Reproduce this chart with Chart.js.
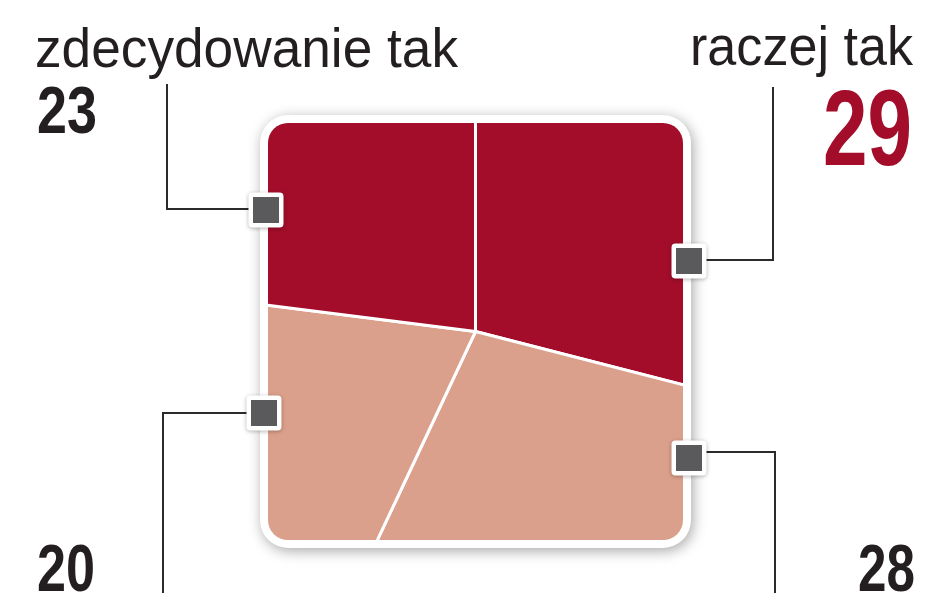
<!DOCTYPE html>
<html lang="pl">
<head>
<meta charset="utf-8">
<title>zdecydowanie tak / raczej tak</title>
<script src="https://cdn.jsdelivr.net/npm/chart.js@4.4.1/dist/chart.umd.min.js"></script>
<style>
  html, body { margin: 0; padding: 0; background: #fff; overflow: hidden; }
  #wrap { width: 948px; height: 593px; }
</style>
</head>
<body>
<div id="wrap"><canvas id="pieChart" width="948" height="593"></canvas></div>
<script>
// slices clockwise from 12 o'clock
const categories = ["raczej tak", "", "", "zdecydowanie tak"];
const values = [29, 28, 20, 23];

const DARK_RED = "#a30d2a";
const SALMON = "#dba08b";
const INK = "#231f20";

// callout boxes: name / number text fitted between left..right, sitting on baseline
const callouts = [
  { slice: 3, name: { left: 35, right: 458, base: 67 }, num: { left: 37, right: 97, base: 133, size: 67, color: INK },
    line: [[250, 209], [167, 209], [167, 84]], marker: [266, 210] },
  { slice: 0, name: { left: 690, right: 913, base: 65 }, num: { left: 823, right: 912, base: 165, size: 107, color: DARK_RED },
    line: [[706, 260], [773, 260], [773, 87]], marker: [689, 261] },
  { slice: 2, num: { left: 37, right: 95, base: 591, size: 67, color: INK },
    line: [[248, 413], [163, 413], [163, 600]], marker: [264, 413] },
  { slice: 1, num: { left: 858, right: 915, base: 591, size: 67, color: INK },
    line: [[706, 452], [775, 452], [775, 600]], marker: [689, 458] }
];

function fitText(ctx, text, box, font, color) {
  ctx.save();
  ctx.font = font;
  ctx.fillStyle = color;
  ctx.textBaseline = "alphabetic";
  ctx.textAlign = "left";
  const w = ctx.measureText(text).width;
  ctx.translate(box.left, box.base);
  ctx.scale((box.right - box.left) / w, 1);
  ctx.fillText(text, 0, 0);
  ctx.restore();
}

const framePlugin = {
  id: "frame",
  beforeDatasetsDraw(chart) {
    const { ctx, chartArea: a } = chart;
    ctx.save();
    ctx.shadowColor = "rgba(0,0,0,0.35)";
    ctx.shadowBlur = 14;
    ctx.shadowOffsetX = 2;
    ctx.shadowOffsetY = 3;
    ctx.fillStyle = "#fff";
    ctx.beginPath();
    ctx.roundRect(a.left - 8, a.top - 8, a.width + 16, a.height + 16, 28);
    ctx.fill();
    ctx.restore();

    // pie is bigger than the square, cut it to the rounded box
    ctx.save();
    ctx.beginPath();
    ctx.roundRect(a.left, a.top, a.width, a.height, 20);
    ctx.clip();
  },
  afterDatasetsDraw(chart) {
    chart.ctx.restore();
  },
  afterDraw(chart) {
    const ctx = chart.ctx;
    callouts.forEach((c) => {
      ctx.save();
      ctx.strokeStyle = "#2b2b2b";
      ctx.lineWidth = 2;
      ctx.beginPath();
      ctx.moveTo(c.line[0][0], c.line[0][1]);
      c.line.slice(1).forEach((p) => ctx.lineTo(p[0], p[1]));
      ctx.stroke();

      const [mx, my] = c.marker;
      ctx.shadowColor = "rgba(0,0,0,0.3)";
      ctx.shadowBlur = 4;
      ctx.shadowOffsetY = 1;
      ctx.fillStyle = "#fff";
      ctx.beginPath();
      ctx.roundRect(mx - 17.5, my - 17.5, 35, 35, 4);
      ctx.fill();
      ctx.shadowColor = "transparent";
      ctx.fillStyle = "#5a5a5c";
      ctx.fillRect(mx - 13, my - 13, 26, 26);
      ctx.restore();

      if (c.name) {
        fitText(ctx, categories[c.slice], c.name, "55px 'Liberation Sans', Arial, sans-serif", INK);
      }
      fitText(ctx, String(values[c.slice]), c.num,
        "bold " + c.num.size + "px 'Liberation Sans', Arial, sans-serif", c.num.color);
    });
  }
};

const pieCtx = document.getElementById("pieChart").getContext("2d");
new Chart(pieCtx, {
  type: "pie",
  data: {
    labels: categories,
    datasets: [
      {
        data: values,
        backgroundColor: [DARK_RED, SALMON, SALMON, DARK_RED],
        borderColor: "#ffffff",
        borderWidth: 3,
        radius: 330,
      },
    ],
  },
  options: {
    responsive: false,
    animation: false,
    layout: {
      padding: { left: 268, top: 123, right: 265, bottom: 53 },
    },
    plugins: {
      legend: { display: false },
      tooltip: { enabled: false },
    },
  },
  plugins: [framePlugin],
});
</script>
</body>
</html>
